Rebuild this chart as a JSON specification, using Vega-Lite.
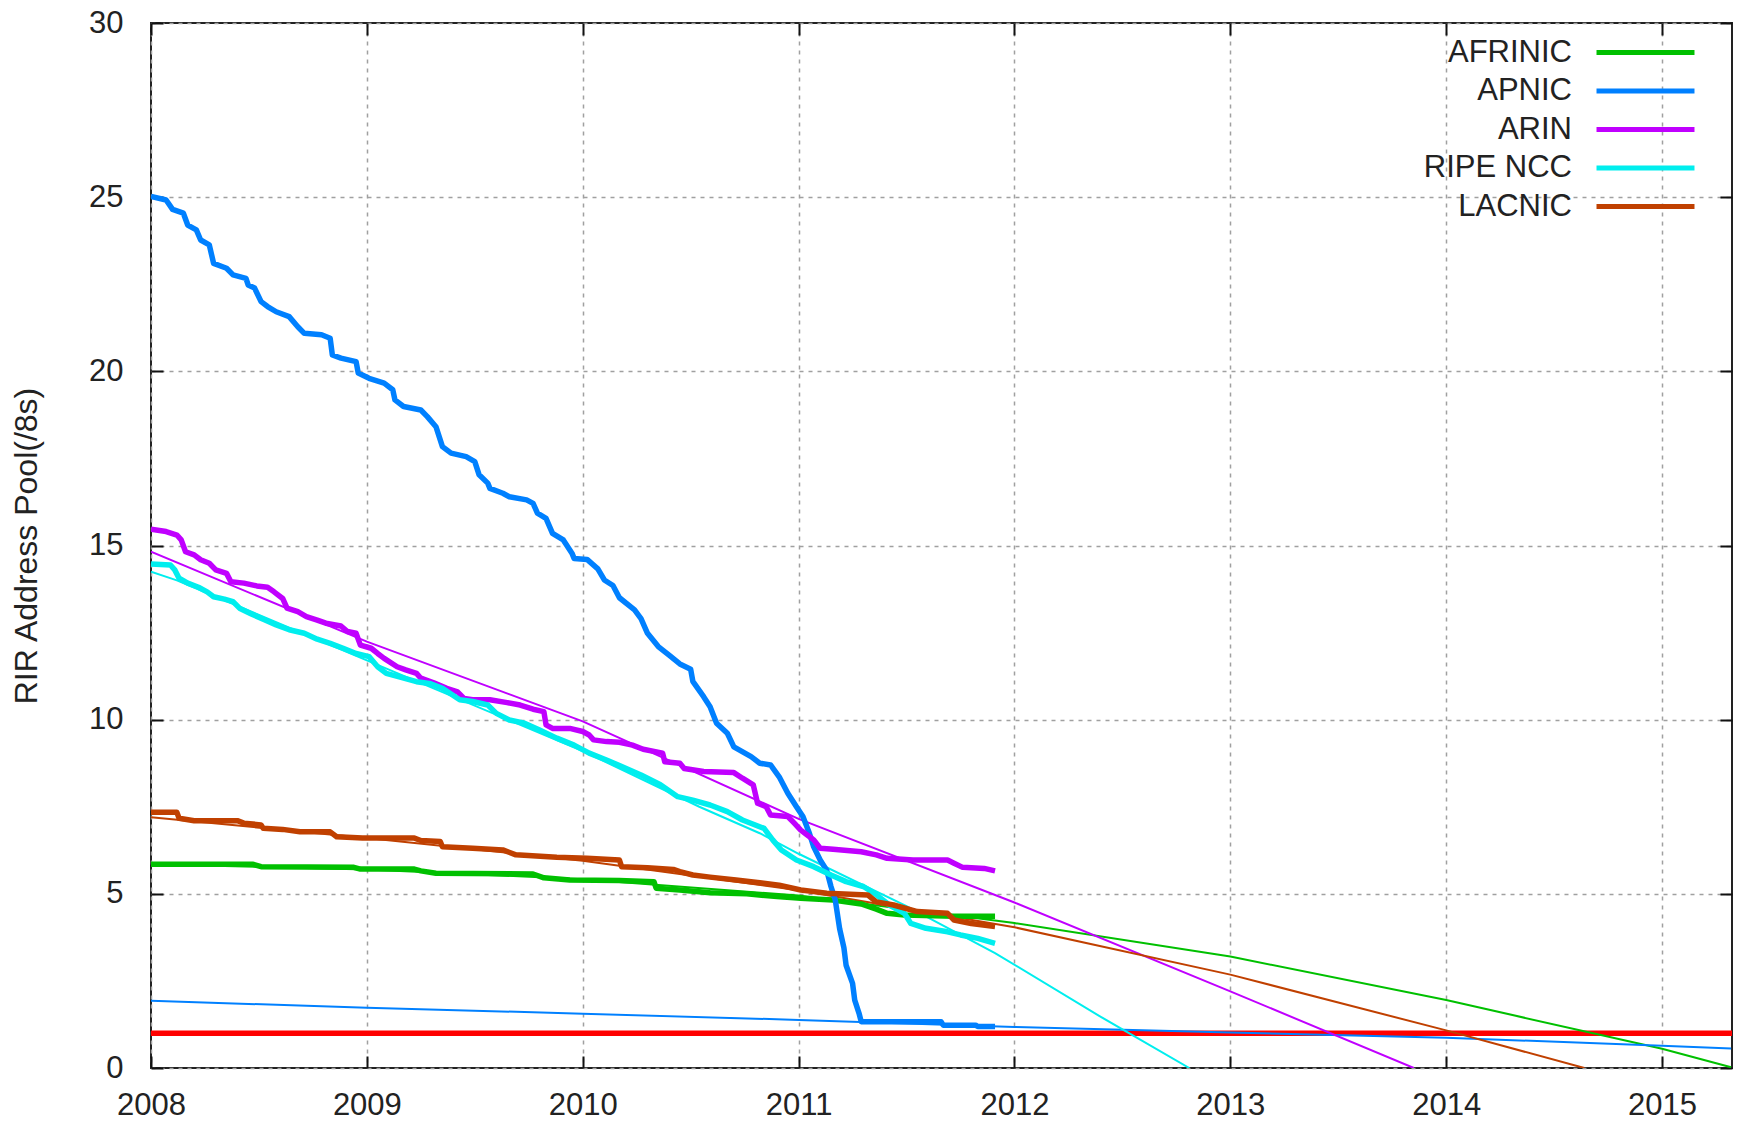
{
  "$schema": "https://vega.github.io/schema/vega-lite/v6.json",
  "autosize": {"type": "none"},
  "width": 1581,
  "height": 1045,
  "padding": {"left": 151, "top": 23, "right": 6, "bottom": 53},
  "background": "white",
  "config": {
    "view": {"stroke": "#222", "strokeWidth": 2},
    "font": "Liberation Sans",
    "legend": {
      "orient": "none", "legendX": 1479, "legendY": 14, "title": null,
      "symbolType": "M-4,0H4", "symbolSize": 600, "symbolStrokeWidth": 5,
      "labelFont": "Liberation Sans", "labelFontSize": 31, "labelColor": "#222",
      "labelAlign": "right", "labelOffset": -89, "labelLimit": 400,
      "rowPadding": 6.5, "padding": 0
    }
  },
  "datasets": {
    "threshold": [{"level": 1}],
    "fit": [
      {"rir": "AFRINIC", "year": 2008, "v": 5.85},
      {"rir": "AFRINIC", "year": 2009, "v": 5.70},
      {"rir": "AFRINIC", "year": 2010, "v": 5.42},
      {"rir": "AFRINIC", "year": 2011, "v": 4.95},
      {"rir": "AFRINIC", "year": 2012, "v": 4.16},
      {"rir": "AFRINIC", "year": 2013, "v": 3.20},
      {"rir": "AFRINIC", "year": 2014, "v": 1.95},
      {"rir": "AFRINIC", "year": 2015, "v": 0.55},
      {"rir": "AFRINIC", "year": 2015.32, "v": 0.02},
      {"rir": "APNIC", "year": 2008, "v": 1.93},
      {"rir": "APNIC", "year": 2009, "v": 1.73},
      {"rir": "APNIC", "year": 2010, "v": 1.56},
      {"rir": "APNIC", "year": 2011, "v": 1.38},
      {"rir": "APNIC", "year": 2012, "v": 1.18},
      {"rir": "APNIC", "year": 2013, "v": 1.02},
      {"rir": "APNIC", "year": 2014, "v": 0.87},
      {"rir": "APNIC", "year": 2015, "v": 0.64},
      {"rir": "APNIC", "year": 2015.32, "v": 0.56},
      {"rir": "ARIN", "year": 2008, "v": 14.82},
      {"rir": "ARIN", "year": 2009, "v": 12.24},
      {"rir": "ARIN", "year": 2010, "v": 9.95},
      {"rir": "ARIN", "year": 2011, "v": 7.15},
      {"rir": "ARIN", "year": 2012, "v": 4.75},
      {"rir": "ARIN", "year": 2013, "v": 2.2},
      {"rir": "ARIN", "year": 2013.85, "v": 0},
      {"rir": "RIPE NCC", "year": 2008, "v": 14.25},
      {"rir": "RIPE NCC", "year": 2008.12, "v": 14.0},
      {"rir": "RIPE NCC", "year": 2009, "v": 11.7},
      {"rir": "RIPE NCC", "year": 2010, "v": 9.1},
      {"rir": "RIPE NCC", "year": 2010.54, "v": 7.5},
      {"rir": "RIPE NCC", "year": 2010.82, "v": 6.74},
      {"rir": "RIPE NCC", "year": 2011, "v": 6.15},
      {"rir": "RIPE NCC", "year": 2011.5, "v": 4.65},
      {"rir": "RIPE NCC", "year": 2011.91, "v": 3.3},
      {"rir": "RIPE NCC", "year": 2012.4, "v": 1.47},
      {"rir": "RIPE NCC", "year": 2012.81, "v": 0},
      {"rir": "LACNIC", "year": 2008, "v": 7.2},
      {"rir": "LACNIC", "year": 2009, "v": 6.6},
      {"rir": "LACNIC", "year": 2010, "v": 5.95},
      {"rir": "LACNIC", "year": 2011, "v": 5.1},
      {"rir": "LACNIC", "year": 2012, "v": 4.04},
      {"rir": "LACNIC", "year": 2013, "v": 2.68},
      {"rir": "LACNIC", "year": 2014, "v": 1.08},
      {"rir": "LACNIC", "year": 2014.64, "v": 0}
    ],
    "actual": [
      {"rir": "AFRINIC", "year": 2008.00, "v": 5.85},
      {"rir": "AFRINIC", "year": 2008.47, "v": 5.85},
      {"rir": "AFRINIC", "year": 2008.51, "v": 5.78},
      {"rir": "AFRINIC", "year": 2008.94, "v": 5.76},
      {"rir": "AFRINIC", "year": 2008.97, "v": 5.71},
      {"rir": "AFRINIC", "year": 2009.22, "v": 5.71},
      {"rir": "AFRINIC", "year": 2009.25, "v": 5.66},
      {"rir": "AFRINIC", "year": 2009.32, "v": 5.59},
      {"rir": "AFRINIC", "year": 2009.77, "v": 5.57},
      {"rir": "AFRINIC", "year": 2009.82, "v": 5.46},
      {"rir": "AFRINIC", "year": 2009.94, "v": 5.40},
      {"rir": "AFRINIC", "year": 2010.17, "v": 5.38},
      {"rir": "AFRINIC", "year": 2010.33, "v": 5.35},
      {"rir": "AFRINIC", "year": 2010.34, "v": 5.16},
      {"rir": "AFRINIC", "year": 2010.45, "v": 5.11},
      {"rir": "AFRINIC", "year": 2010.59, "v": 5.03},
      {"rir": "AFRINIC", "year": 2010.76, "v": 5.00},
      {"rir": "AFRINIC", "year": 2010.90, "v": 4.92},
      {"rir": "AFRINIC", "year": 2011.01, "v": 4.87},
      {"rir": "AFRINIC", "year": 2011.16, "v": 4.82},
      {"rir": "AFRINIC", "year": 2011.29, "v": 4.71},
      {"rir": "AFRINIC", "year": 2011.36, "v": 4.56},
      {"rir": "AFRINIC", "year": 2011.41, "v": 4.44},
      {"rir": "AFRINIC", "year": 2011.49, "v": 4.39},
      {"rir": "AFRINIC", "year": 2011.72, "v": 4.36},
      {"rir": "AFRINIC", "year": 2011.91, "v": 4.36},

      {"rir": "APNIC", "year": 2008.00, "v": 25.02},
      {"rir": "APNIC", "year": 2008.07, "v": 24.92},
      {"rir": "APNIC", "year": 2008.10, "v": 24.65},
      {"rir": "APNIC", "year": 2008.15, "v": 24.54},
      {"rir": "APNIC", "year": 2008.17, "v": 24.20},
      {"rir": "APNIC", "year": 2008.21, "v": 24.06},
      {"rir": "APNIC", "year": 2008.23, "v": 23.77},
      {"rir": "APNIC", "year": 2008.27, "v": 23.63},
      {"rir": "APNIC", "year": 2008.29, "v": 23.10},
      {"rir": "APNIC", "year": 2008.35, "v": 22.96},
      {"rir": "APNIC", "year": 2008.38, "v": 22.77},
      {"rir": "APNIC", "year": 2008.44, "v": 22.67},
      {"rir": "APNIC", "year": 2008.45, "v": 22.48},
      {"rir": "APNIC", "year": 2008.48, "v": 22.39},
      {"rir": "APNIC", "year": 2008.51, "v": 22.00},
      {"rir": "APNIC", "year": 2008.54, "v": 21.86},
      {"rir": "APNIC", "year": 2008.58, "v": 21.71},
      {"rir": "APNIC", "year": 2008.64, "v": 21.57},
      {"rir": "APNIC", "year": 2008.68, "v": 21.28},
      {"rir": "APNIC", "year": 2008.71, "v": 21.09},
      {"rir": "APNIC", "year": 2008.79, "v": 21.05},
      {"rir": "APNIC", "year": 2008.83, "v": 20.95},
      {"rir": "APNIC", "year": 2008.84, "v": 20.47},
      {"rir": "APNIC", "year": 2008.88, "v": 20.38},
      {"rir": "APNIC", "year": 2008.95, "v": 20.28},
      {"rir": "APNIC", "year": 2008.96, "v": 19.95},
      {"rir": "APNIC", "year": 2009.01, "v": 19.80},
      {"rir": "APNIC", "year": 2009.08, "v": 19.66},
      {"rir": "APNIC", "year": 2009.12, "v": 19.47},
      {"rir": "APNIC", "year": 2009.13, "v": 19.18},
      {"rir": "APNIC", "year": 2009.17, "v": 18.99},
      {"rir": "APNIC", "year": 2009.25, "v": 18.89},
      {"rir": "APNIC", "year": 2009.28, "v": 18.70},
      {"rir": "APNIC", "year": 2009.32, "v": 18.41},
      {"rir": "APNIC", "year": 2009.35, "v": 17.84},
      {"rir": "APNIC", "year": 2009.39, "v": 17.65},
      {"rir": "APNIC", "year": 2009.46, "v": 17.55},
      {"rir": "APNIC", "year": 2009.50, "v": 17.41},
      {"rir": "APNIC", "year": 2009.52, "v": 17.03},
      {"rir": "APNIC", "year": 2009.56, "v": 16.79},
      {"rir": "APNIC", "year": 2009.57, "v": 16.64},
      {"rir": "APNIC", "year": 2009.63, "v": 16.50},
      {"rir": "APNIC", "year": 2009.66, "v": 16.40},
      {"rir": "APNIC", "year": 2009.74, "v": 16.31},
      {"rir": "APNIC", "year": 2009.77, "v": 16.21},
      {"rir": "APNIC", "year": 2009.79, "v": 15.93},
      {"rir": "APNIC", "year": 2009.83, "v": 15.78},
      {"rir": "APNIC", "year": 2009.86, "v": 15.35},
      {"rir": "APNIC", "year": 2009.91, "v": 15.16},
      {"rir": "APNIC", "year": 2009.95, "v": 14.78},
      {"rir": "APNIC", "year": 2009.96, "v": 14.63},
      {"rir": "APNIC", "year": 2010.02, "v": 14.60},
      {"rir": "APNIC", "year": 2010.07, "v": 14.33},
      {"rir": "APNIC", "year": 2010.10, "v": 14.01},
      {"rir": "APNIC", "year": 2010.14, "v": 13.85},
      {"rir": "APNIC", "year": 2010.17, "v": 13.50},
      {"rir": "APNIC", "year": 2010.24, "v": 13.15},
      {"rir": "APNIC", "year": 2010.27, "v": 12.90},
      {"rir": "APNIC", "year": 2010.30, "v": 12.48},
      {"rir": "APNIC", "year": 2010.35, "v": 12.10},
      {"rir": "APNIC", "year": 2010.40, "v": 11.85},
      {"rir": "APNIC", "year": 2010.45, "v": 11.60},
      {"rir": "APNIC", "year": 2010.50, "v": 11.45},
      {"rir": "APNIC", "year": 2010.51, "v": 11.10},
      {"rir": "APNIC", "year": 2010.56, "v": 10.66},
      {"rir": "APNIC", "year": 2010.59, "v": 10.37},
      {"rir": "APNIC", "year": 2010.62, "v": 9.90},
      {"rir": "APNIC", "year": 2010.67, "v": 9.61},
      {"rir": "APNIC", "year": 2010.70, "v": 9.22},
      {"rir": "APNIC", "year": 2010.78, "v": 8.94},
      {"rir": "APNIC", "year": 2010.82, "v": 8.75},
      {"rir": "APNIC", "year": 2010.87, "v": 8.70},
      {"rir": "APNIC", "year": 2010.91, "v": 8.36},
      {"rir": "APNIC", "year": 2010.95, "v": 7.89},
      {"rir": "APNIC", "year": 2010.99, "v": 7.50},
      {"rir": "APNIC", "year": 2011.02, "v": 7.22},
      {"rir": "APNIC", "year": 2011.05, "v": 6.74},
      {"rir": "APNIC", "year": 2011.07, "v": 6.35},
      {"rir": "APNIC", "year": 2011.10, "v": 5.97},
      {"rir": "APNIC", "year": 2011.13, "v": 5.68},
      {"rir": "APNIC", "year": 2011.15, "v": 5.21},
      {"rir": "APNIC", "year": 2011.17, "v": 4.82},
      {"rir": "APNIC", "year": 2011.19, "v": 4.00},
      {"rir": "APNIC", "year": 2011.21, "v": 3.45},
      {"rir": "APNIC", "year": 2011.22, "v": 2.95},
      {"rir": "APNIC", "year": 2011.25, "v": 2.43},
      {"rir": "APNIC", "year": 2011.26, "v": 1.95},
      {"rir": "APNIC", "year": 2011.28, "v": 1.57},
      {"rir": "APNIC", "year": 2011.29, "v": 1.33},
      {"rir": "APNIC", "year": 2011.66, "v": 1.33},
      {"rir": "APNIC", "year": 2011.67, "v": 1.23},
      {"rir": "APNIC", "year": 2011.82, "v": 1.23},
      {"rir": "APNIC", "year": 2011.83, "v": 1.19},
      {"rir": "APNIC", "year": 2011.91, "v": 1.19},

      {"rir": "ARIN", "year": 2008.00, "v": 15.47},
      {"rir": "ARIN", "year": 2008.07, "v": 15.40},
      {"rir": "ARIN", "year": 2008.12, "v": 15.30},
      {"rir": "ARIN", "year": 2008.14, "v": 15.16},
      {"rir": "ARIN", "year": 2008.16, "v": 14.82},
      {"rir": "ARIN", "year": 2008.20, "v": 14.73},
      {"rir": "ARIN", "year": 2008.23, "v": 14.59},
      {"rir": "ARIN", "year": 2008.27, "v": 14.49},
      {"rir": "ARIN", "year": 2008.30, "v": 14.30},
      {"rir": "ARIN", "year": 2008.35, "v": 14.20},
      {"rir": "ARIN", "year": 2008.37, "v": 13.96},
      {"rir": "ARIN", "year": 2008.43, "v": 13.92},
      {"rir": "ARIN", "year": 2008.49, "v": 13.84},
      {"rir": "ARIN", "year": 2008.54, "v": 13.80},
      {"rir": "ARIN", "year": 2008.57, "v": 13.67},
      {"rir": "ARIN", "year": 2008.61, "v": 13.48},
      {"rir": "ARIN", "year": 2008.63, "v": 13.20},
      {"rir": "ARIN", "year": 2008.68, "v": 13.10},
      {"rir": "ARIN", "year": 2008.72, "v": 12.96},
      {"rir": "ARIN", "year": 2008.77, "v": 12.86},
      {"rir": "ARIN", "year": 2008.81, "v": 12.77},
      {"rir": "ARIN", "year": 2008.88, "v": 12.69},
      {"rir": "ARIN", "year": 2008.91, "v": 12.53},
      {"rir": "ARIN", "year": 2008.95, "v": 12.48},
      {"rir": "ARIN", "year": 2008.97, "v": 12.14},
      {"rir": "ARIN", "year": 2009.02, "v": 12.05},
      {"rir": "ARIN", "year": 2009.05, "v": 11.90},
      {"rir": "ARIN", "year": 2009.08, "v": 11.76},
      {"rir": "ARIN", "year": 2009.14, "v": 11.52},
      {"rir": "ARIN", "year": 2009.18, "v": 11.43},
      {"rir": "ARIN", "year": 2009.23, "v": 11.33},
      {"rir": "ARIN", "year": 2009.25, "v": 11.19},
      {"rir": "ARIN", "year": 2009.31, "v": 11.06},
      {"rir": "ARIN", "year": 2009.37, "v": 10.90},
      {"rir": "ARIN", "year": 2009.42, "v": 10.80},
      {"rir": "ARIN", "year": 2009.45, "v": 10.61},
      {"rir": "ARIN", "year": 2009.49, "v": 10.57},
      {"rir": "ARIN", "year": 2009.57, "v": 10.57},
      {"rir": "ARIN", "year": 2009.65, "v": 10.49},
      {"rir": "ARIN", "year": 2009.71, "v": 10.42},
      {"rir": "ARIN", "year": 2009.77, "v": 10.30},
      {"rir": "ARIN", "year": 2009.82, "v": 10.23},
      {"rir": "ARIN", "year": 2009.83, "v": 9.85},
      {"rir": "ARIN", "year": 2009.86, "v": 9.75},
      {"rir": "ARIN", "year": 2009.94, "v": 9.75},
      {"rir": "ARIN", "year": 2010.00, "v": 9.66},
      {"rir": "ARIN", "year": 2010.03, "v": 9.56},
      {"rir": "ARIN", "year": 2010.05, "v": 9.42},
      {"rir": "ARIN", "year": 2010.11, "v": 9.37},
      {"rir": "ARIN", "year": 2010.17, "v": 9.35},
      {"rir": "ARIN", "year": 2010.23, "v": 9.27},
      {"rir": "ARIN", "year": 2010.28, "v": 9.15},
      {"rir": "ARIN", "year": 2010.37, "v": 9.04},
      {"rir": "ARIN", "year": 2010.38, "v": 8.79},
      {"rir": "ARIN", "year": 2010.45, "v": 8.75},
      {"rir": "ARIN", "year": 2010.47, "v": 8.60},
      {"rir": "ARIN", "year": 2010.56, "v": 8.51},
      {"rir": "ARIN", "year": 2010.70, "v": 8.48},
      {"rir": "ARIN", "year": 2010.74, "v": 8.32},
      {"rir": "ARIN", "year": 2010.79, "v": 8.13},
      {"rir": "ARIN", "year": 2010.81, "v": 7.60},
      {"rir": "ARIN", "year": 2010.85, "v": 7.50},
      {"rir": "ARIN", "year": 2010.87, "v": 7.26},
      {"rir": "ARIN", "year": 2010.95, "v": 7.22},
      {"rir": "ARIN", "year": 2010.98, "v": 7.03},
      {"rir": "ARIN", "year": 2011.01, "v": 6.83},
      {"rir": "ARIN", "year": 2011.04, "v": 6.69},
      {"rir": "ARIN", "year": 2011.07, "v": 6.55},
      {"rir": "ARIN", "year": 2011.10, "v": 6.31},
      {"rir": "ARIN", "year": 2011.16, "v": 6.28},
      {"rir": "ARIN", "year": 2011.29, "v": 6.21},
      {"rir": "ARIN", "year": 2011.36, "v": 6.12},
      {"rir": "ARIN", "year": 2011.41, "v": 6.02},
      {"rir": "ARIN", "year": 2011.53, "v": 5.97},
      {"rir": "ARIN", "year": 2011.69, "v": 5.97},
      {"rir": "ARIN", "year": 2011.72, "v": 5.88},
      {"rir": "ARIN", "year": 2011.76, "v": 5.76},
      {"rir": "ARIN", "year": 2011.86, "v": 5.73},
      {"rir": "ARIN", "year": 2011.91, "v": 5.66},

      {"rir": "RIPE NCC", "year": 2008.00, "v": 14.47},
      {"rir": "RIPE NCC", "year": 2008.09, "v": 14.44},
      {"rir": "RIPE NCC", "year": 2008.11, "v": 14.30},
      {"rir": "RIPE NCC", "year": 2008.13, "v": 14.06},
      {"rir": "RIPE NCC", "year": 2008.17, "v": 13.92},
      {"rir": "RIPE NCC", "year": 2008.22, "v": 13.80},
      {"rir": "RIPE NCC", "year": 2008.26, "v": 13.67},
      {"rir": "RIPE NCC", "year": 2008.29, "v": 13.53},
      {"rir": "RIPE NCC", "year": 2008.34, "v": 13.46},
      {"rir": "RIPE NCC", "year": 2008.38, "v": 13.39},
      {"rir": "RIPE NCC", "year": 2008.41, "v": 13.20},
      {"rir": "RIPE NCC", "year": 2008.46, "v": 13.05},
      {"rir": "RIPE NCC", "year": 2008.52, "v": 12.88},
      {"rir": "RIPE NCC", "year": 2008.58, "v": 12.72},
      {"rir": "RIPE NCC", "year": 2008.64, "v": 12.58},
      {"rir": "RIPE NCC", "year": 2008.71, "v": 12.48},
      {"rir": "RIPE NCC", "year": 2008.77, "v": 12.31},
      {"rir": "RIPE NCC", "year": 2008.83, "v": 12.19},
      {"rir": "RIPE NCC", "year": 2008.89, "v": 12.05},
      {"rir": "RIPE NCC", "year": 2008.95, "v": 11.90},
      {"rir": "RIPE NCC", "year": 2009.01, "v": 11.81},
      {"rir": "RIPE NCC", "year": 2009.05, "v": 11.52},
      {"rir": "RIPE NCC", "year": 2009.09, "v": 11.33},
      {"rir": "RIPE NCC", "year": 2009.15, "v": 11.23},
      {"rir": "RIPE NCC", "year": 2009.23, "v": 11.09},
      {"rir": "RIPE NCC", "year": 2009.29, "v": 11.04},
      {"rir": "RIPE NCC", "year": 2009.35, "v": 10.90},
      {"rir": "RIPE NCC", "year": 2009.43, "v": 10.57},
      {"rir": "RIPE NCC", "year": 2009.49, "v": 10.52},
      {"rir": "RIPE NCC", "year": 2009.56, "v": 10.42},
      {"rir": "RIPE NCC", "year": 2009.60, "v": 10.18},
      {"rir": "RIPE NCC", "year": 2009.66, "v": 9.99},
      {"rir": "RIPE NCC", "year": 2009.73, "v": 9.90},
      {"rir": "RIPE NCC", "year": 2009.80, "v": 9.70},
      {"rir": "RIPE NCC", "year": 2009.88, "v": 9.47},
      {"rir": "RIPE NCC", "year": 2009.96, "v": 9.27},
      {"rir": "RIPE NCC", "year": 2010.03, "v": 9.04},
      {"rir": "RIPE NCC", "year": 2010.11, "v": 8.84},
      {"rir": "RIPE NCC", "year": 2010.17, "v": 8.68},
      {"rir": "RIPE NCC", "year": 2010.27, "v": 8.41},
      {"rir": "RIPE NCC", "year": 2010.36, "v": 8.13},
      {"rir": "RIPE NCC", "year": 2010.44, "v": 7.79},
      {"rir": "RIPE NCC", "year": 2010.51, "v": 7.69},
      {"rir": "RIPE NCC", "year": 2010.59, "v": 7.55},
      {"rir": "RIPE NCC", "year": 2010.67, "v": 7.36},
      {"rir": "RIPE NCC", "year": 2010.74, "v": 7.12},
      {"rir": "RIPE NCC", "year": 2010.84, "v": 6.88},
      {"rir": "RIPE NCC", "year": 2010.88, "v": 6.55},
      {"rir": "RIPE NCC", "year": 2010.92, "v": 6.26},
      {"rir": "RIPE NCC", "year": 2010.99, "v": 5.97},
      {"rir": "RIPE NCC", "year": 2011.07, "v": 5.78},
      {"rir": "RIPE NCC", "year": 2011.15, "v": 5.54},
      {"rir": "RIPE NCC", "year": 2011.22, "v": 5.35},
      {"rir": "RIPE NCC", "year": 2011.30, "v": 5.21},
      {"rir": "RIPE NCC", "year": 2011.35, "v": 5.02},
      {"rir": "RIPE NCC", "year": 2011.42, "v": 4.68},
      {"rir": "RIPE NCC", "year": 2011.49, "v": 4.44},
      {"rir": "RIPE NCC", "year": 2011.52, "v": 4.15},
      {"rir": "RIPE NCC", "year": 2011.59, "v": 4.01},
      {"rir": "RIPE NCC", "year": 2011.69, "v": 3.91},
      {"rir": "RIPE NCC", "year": 2011.75, "v": 3.82},
      {"rir": "RIPE NCC", "year": 2011.83, "v": 3.72},
      {"rir": "RIPE NCC", "year": 2011.91, "v": 3.58},

      {"rir": "LACNIC", "year": 2008.00, "v": 7.34},
      {"rir": "LACNIC", "year": 2008.12, "v": 7.34},
      {"rir": "LACNIC", "year": 2008.13, "v": 7.17},
      {"rir": "LACNIC", "year": 2008.20, "v": 7.10},
      {"rir": "LACNIC", "year": 2008.40, "v": 7.10},
      {"rir": "LACNIC", "year": 2008.43, "v": 7.03},
      {"rir": "LACNIC", "year": 2008.51, "v": 6.98},
      {"rir": "LACNIC", "year": 2008.52, "v": 6.88},
      {"rir": "LACNIC", "year": 2008.61, "v": 6.85},
      {"rir": "LACNIC", "year": 2008.69, "v": 6.78},
      {"rir": "LACNIC", "year": 2008.83, "v": 6.78},
      {"rir": "LACNIC", "year": 2008.86, "v": 6.64},
      {"rir": "LACNIC", "year": 2008.98, "v": 6.60},
      {"rir": "LACNIC", "year": 2009.22, "v": 6.60},
      {"rir": "LACNIC", "year": 2009.25, "v": 6.53},
      {"rir": "LACNIC", "year": 2009.34, "v": 6.50},
      {"rir": "LACNIC", "year": 2009.35, "v": 6.35},
      {"rir": "LACNIC", "year": 2009.49, "v": 6.31},
      {"rir": "LACNIC", "year": 2009.63, "v": 6.26},
      {"rir": "LACNIC", "year": 2009.69, "v": 6.12},
      {"rir": "LACNIC", "year": 2009.88, "v": 6.05},
      {"rir": "LACNIC", "year": 2010.02, "v": 6.02},
      {"rir": "LACNIC", "year": 2010.17, "v": 5.97},
      {"rir": "LACNIC", "year": 2010.18, "v": 5.78},
      {"rir": "LACNIC", "year": 2010.30, "v": 5.75},
      {"rir": "LACNIC", "year": 2010.42, "v": 5.70},
      {"rir": "LACNIC", "year": 2010.45, "v": 5.64},
      {"rir": "LACNIC", "year": 2010.51, "v": 5.54},
      {"rir": "LACNIC", "year": 2010.59, "v": 5.48},
      {"rir": "LACNIC", "year": 2010.71, "v": 5.40},
      {"rir": "LACNIC", "year": 2010.82, "v": 5.32},
      {"rir": "LACNIC", "year": 2010.91, "v": 5.25},
      {"rir": "LACNIC", "year": 2011.01, "v": 5.11},
      {"rir": "LACNIC", "year": 2011.13, "v": 5.02},
      {"rir": "LACNIC", "year": 2011.32, "v": 4.97},
      {"rir": "LACNIC", "year": 2011.36, "v": 4.77},
      {"rir": "LACNIC", "year": 2011.44, "v": 4.68},
      {"rir": "LACNIC", "year": 2011.55, "v": 4.49},
      {"rir": "LACNIC", "year": 2011.69, "v": 4.44},
      {"rir": "LACNIC", "year": 2011.72, "v": 4.25},
      {"rir": "LACNIC", "year": 2011.80, "v": 4.15},
      {"rir": "LACNIC", "year": 2011.91, "v": 4.06}
    ]
  },
  "resolve": {"axis": {"x": "independent", "y": "independent"}},
  "layer": [
    {
      "data": {"name": "threshold"},
      "mark": {"type": "rule", "color": "#ff0000", "strokeWidth": 5.5},
      "encoding": {
        "y": {"field": "level", "type": "quantitative", "axis": null}
      }
    },
    {
      "data": {"name": "fit"},
      "mark": {"type": "line", "strokeWidth": 2, "clip": true},
      "encoding": {
        "x": {
          "field": "year", "type": "quantitative",
          "scale": {"domain": [2008, 2015.324], "nice": false, "zero": false},
          "axis": {
            "orient": "bottom", "values": [2008, 2009, 2010, 2011, 2012, 2013, 2014, 2015],
            "format": "d", "grid": true, "gridColor": "#a0a0a0", "gridDash": [4, 5], "gridWidth": 1.5,
            "tickSize": -12, "tickWidth": 2, "tickColor": "#111", "domain": false,
            "labelFont": "Liberation Sans", "labelFontSize": 31, "labelColor": "#222",
            "labelPadding": 34, "labelFlush": false, "labelOverlap": false, "title": null
          }
        },
        "y": {
          "field": "v", "type": "quantitative",
          "scale": {"domain": [0, 30], "nice": false, "zero": true},
          "axis": {
            "orient": "left", "values": [0, 5, 10, 15, 20, 25, 30],
            "grid": true, "gridColor": "#a0a0a0", "gridDash": [4, 5], "gridWidth": 1.5,
            "tickSize": -12, "tickWidth": 2, "tickColor": "#111", "domain": false,
            "labelFont": "Liberation Sans", "labelFontSize": 31, "labelColor": "#222",
            "labelPadding": 40, "labelFlush": false, "labelOverlap": false,
            "title": "RIR Address Pool(/8s)", "titleFont": "Liberation Sans", "titleFontSize": 32,
            "titleFontWeight": "normal", "titleColor": "#222", "titlePadding": 45
          }
        },
        "color": {
          "field": "rir", "type": "nominal",
          "scale": {"domain": ["AFRINIC", "APNIC", "ARIN", "RIPE NCC", "LACNIC"],
                    "range": ["#00c000", "#0080ff", "#c000ff", "#00eeee", "#c04000"]}
        }
      }
    },
    {
      "data": {"name": "actual"},
      "mark": {"type": "line", "strokeWidth": 5.5, "strokeJoin": "round", "clip": true},
      "encoding": {
        "x": {
          "field": "year", "type": "quantitative",
          "axis": {
            "orient": "top", "values": [2008, 2009, 2010, 2011, 2012, 2013, 2014, 2015],
            "grid": false, "labels": false, "tickSize": -12, "tickWidth": 2, "tickColor": "#111",
            "domain": false, "title": null
          }
        },
        "y": {
          "field": "v", "type": "quantitative",
          "axis": {
            "orient": "right", "values": [0, 5, 10, 15, 20, 25, 30],
            "grid": false, "labels": false, "tickSize": -12, "tickWidth": 2, "tickColor": "#111",
            "domain": false, "title": null
          }
        },
        "color": {
          "field": "rir", "type": "nominal"
        }
      }
    }
  ]
}
